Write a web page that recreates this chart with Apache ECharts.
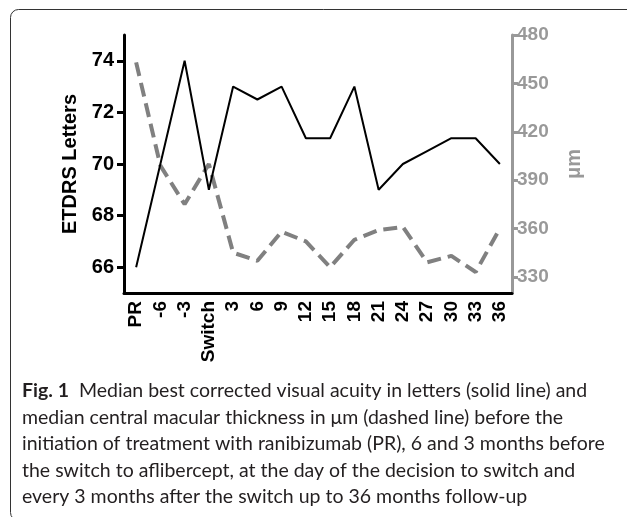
<!DOCTYPE html>
<html><head><meta charset="utf-8">
<script src="https://cdn.jsdelivr.net/npm/echarts@6/dist/echarts.min.js"></script>
<style>html,body{margin:0;padding:0;background:#fff;}#c{width:627px;height:517px;}</style>
</head><body><div id="c"></div>
<script>
const categories = ['PR','-6','-3','Switch','3','6','9','12','15','18','21','24','27','30','33','36'];
const letters = [66,70,74,69,73,72.5,73,71,71,73,69,70,70.5,71,71,70];
const thickness = [463,399,375,400,345,340,358,352,336,353,359,361,339,343,333,360];
const leftTicks = [66,68,70,72,74];
const rightTicks = [330,360,390,420,450,480];
const leftName = 'ETDRS Letters';
const rightName = 'μm';
const captionBold = 'Fig. 1';
const captionLines = [
  'Median best corrected visual acuity in letters (solid line) and',
  'median central macular thickness in μm (dashed line) before the',
  'initiation of treatment with ranibizumab (PR), 6 and 3 months before',
  'the switch to aflibercept, at the day of the decision to switch and',
  'every 3 months after the switch up to 36 months follow-up'
];

const AX = 'Liberation Sans, Arial, sans-serif';
const CAP = 'Lato, "Open Sans", sans-serif';
const chart = echarts.init(document.getElementById('c'), null, {renderer: 'canvas'});

const captionGraphics = captionLines.map((t, i) => ({
  type: 'text',
  left: 22,
  top: 381 + i * 26.5,
  style: i === 0 ? {
    text: '{b|' + captionBold + '}  ' + t,
    font: '19.5px ' + CAP,
    fill: '#231f20',
    rich: { b: { fontWeight: 'bold', fontSize: 19.5, fontFamily: CAP, fill: '#231f20' } }
  } : {
    text: t,
    font: '19.5px ' + CAP,
    fill: '#231f20'
  }
}));

chart.setOption({
  animation: false,
  backgroundColor: '#fff',
  grid: { left: 124, right: 115, top: 35, bottom: 224, containLabel: false },
  xAxis: {
    type: 'category',
    data: categories,
    boundaryGap: true,
    axisLine: { lineStyle: { color: '#000', width: 3 } },
    axisTick: { alignWithLabel: true, length: 6, lineStyle: { color: '#000', width: 3 } },
    axisLabel: { rotate: 90, interval: 0, fontWeight: 'bold', fontSize: 19, color: '#000', fontFamily: AX, margin: 8 },
    splitLine: { show: false }
  },
  yAxis: [
    {
      type: 'value', position: 'left', min: 65, max: 75,
      name: leftName, nameLocation: 'middle', nameRotate: 90, nameGap: 42,
      nameTextStyle: { fontWeight: 'bold', fontSize: 20, color: '#000', fontFamily: AX },
      axisLine: { show: true, lineStyle: { color: '#000', width: 3 } },
      axisTick: { show: true, length: 7, customValues: leftTicks, lineStyle: { color: '#000', width: 3 } },
      axisLabel: { customValues: leftTicks, fontWeight: 'bold', fontSize: 20, color: '#000', fontFamily: AX, margin: 10 },
      splitLine: { show: false }
    },
    {
      type: 'value', position: 'right', min: 320, max: 480,
      name: rightName, nameLocation: 'middle', nameRotate: 90, nameGap: 52,
      nameTextStyle: { fontWeight: 'bold', fontSize: 20, color: '#999', fontFamily: AX },
      axisLine: { show: true, lineStyle: { color: '#999', width: 3 } },
      axisTick: { show: true, length: 6, customValues: rightTicks, lineStyle: { color: '#999', width: 3 } },
      axisLabel: { customValues: rightTicks, fontWeight: 'bold', fontSize: 19, color: '#999', fontFamily: AX, margin: 5 },
      splitLine: { show: false }
    }
  ],
  series: [
    {
      type: 'line', yAxisIndex: 1, data: thickness, showSymbol: false, symbol: 'none',
      lineStyle: { color: '#808080', width: 4, type: [14, 7] }
    },
    {
      type: 'line', yAxisIndex: 0, data: letters, showSymbol: false, symbol: 'none',
      lineStyle: { color: '#000', width: 2 }
    }
  ],
  graphic: [
    { type: 'rect', shape: { x: 10.5, y: 9.5, width: 640, height: 511, r: 8 }, style: { fill: 'none', stroke: '#333', lineWidth: 1 }, z: 0 }
  ].concat(captionGraphics)
});
</script>
</body></html>
